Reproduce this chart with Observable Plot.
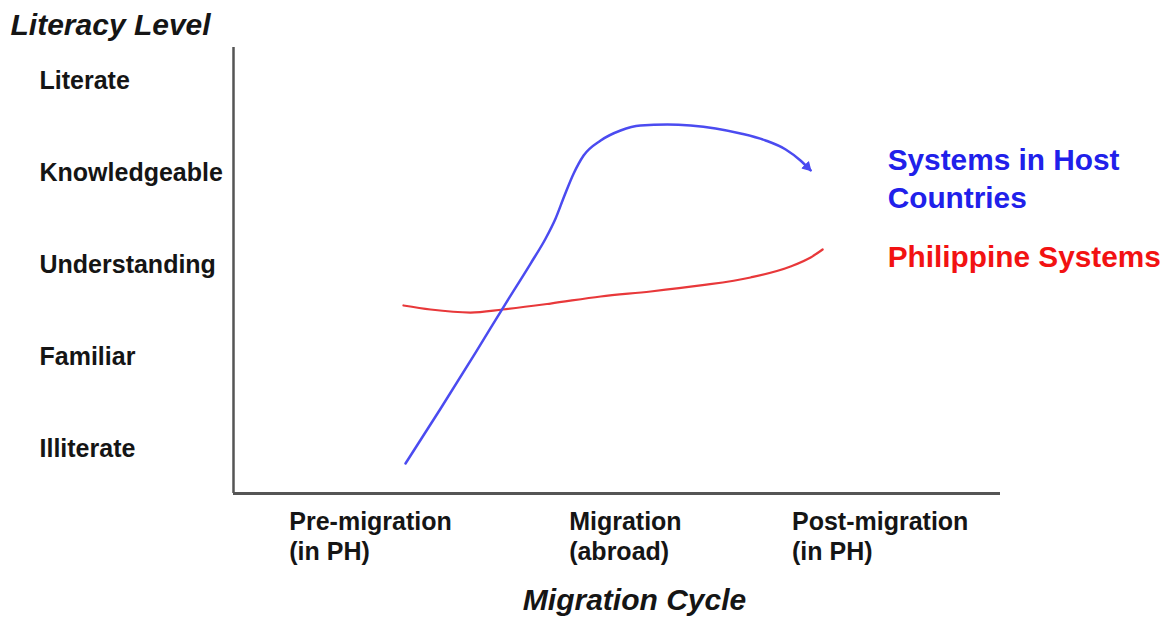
<!DOCTYPE html>
<html><head><meta charset="utf-8">
<script src="https://cdn.jsdelivr.net/npm/d3@7"></script>
<script src="https://cdn.jsdelivr.net/npm/@observablehq/plot@0.6"></script>
<style>html,body{margin:0;padding:0;background:#fff}#chart svg{display:block}</style>
</head><body><div id="chart"></div>
<script>
// ---- data ----
const yLevels = ["Illiterate", "Familiar", "Understanding", "Knowledgeable", "Literate"];
const xPhases = ["Pre-migration\n(in PH)", "Migration\n(abroad)", "Post-migration\n(in PH)"];
const seriesNames = ["Systems in Host\nCountries", "Philippine Systems"];
const yTitle = "Literacy Level";
const xTitle = "Migration Cycle";

// Systems in Host Countries (x: phase position 0..2, y: literacy level 0..4)
const hostX = [0.145, 0.283, 0.420, 0.538, 0.636, 0.695, 0.734, 0.769, 0.805, 0.844, 0.911, 0.989, 1.067, 1.173, 1.264, 1.362, 1.460, 1.558, 1.637, 1.695, 1.735];
const hostY = [-0.163, 0.436, 1.046, 1.580, 2.016, 2.289, 2.507, 2.757, 2.997, 3.193, 3.357, 3.466, 3.520, 3.531, 3.520, 3.488, 3.433, 3.357, 3.259, 3.139, 3.030];
// Philippine Systems
const phX = [0.137, 0.243, 0.400, 0.526, 0.714, 0.911, 1.107, 1.303, 1.499, 1.656, 1.735, 1.782];
const phY = [1.559, 1.515, 1.482, 1.515, 1.580, 1.657, 1.711, 1.777, 1.864, 1.984, 2.082, 2.169];

// ---- styles ----
const FONT = "'Liberation Sans', Arial, Helvetica, sans-serif";
const BLUE_LINE = "#4b4bf0", RED_LINE = "#e8383a";
const BLUE_TEXT = "#2020ea", RED_TEXT = "#f21212";
const INK = "#151515";

const host = hostX.map((x, i) => ({x, y: hostY[i]}));
const ph = phX.map((x, i) => ({x, y: phY[i]}));

const ctx = document.createElement("canvas").getContext("2d");
ctx.font = `bold 25px ${FONT}`;
const phaseMarks = xPhases.map((label, i) => {
  const w = ctx.measureText(label.split("\n")[0]).width;
  return Plot.text([label], {
    x: [i], text: d => d, frameAnchor: "bottom", textAnchor: "start", lineAnchor: "top",
    dx: -w / 2 + 2, dy: 15, fontSize: 25, lineHeight: 1.2, fontWeight: "bold", fill: INK
  });
});

const chart = Plot.plot({
  width: 1168, height: 619,
  marginLeft: 233, marginRight: 168, marginTop: 47, marginBottom: 126,
  x: {domain: [-0.53, 2.48], axis: null},
  y: {domain: [-0.49, 4.37], axis: null},
  style: {fontFamily: FONT, background: "#fff", overflow: "visible"},
  marks: [
    Plot.ruleX([-0.53], {stroke: "#555", strokeWidth: 2.5}),
    Plot.ruleY([-0.49], {stroke: "#555", strokeWidth: 3}),
    Plot.line(ph, {x: "x", y: "y", curve: "monotone-x", stroke: RED_LINE, strokeWidth: 2.2}),
    Plot.line(host, {x: "x", y: "y", curve: "monotone-x", stroke: BLUE_LINE, strokeWidth: 2.5, markerEnd: "arrow"}),
    Plot.text(yLevels, {y: (d, i) => i, text: d => d, frameAnchor: "left", textAnchor: "start", lineAnchor: "middle",
      dx: -194, fontSize: 25, fontWeight: "bold", fill: INK}),
    ...phaseMarks,
    Plot.text([seriesNames[0]], {x: [hostX[hostX.length - 1]], y: [hostY[hostY.length - 1]], text: d => d,
      textAnchor: "start", lineAnchor: "middle", dx: 77, dy: 6.5, fontSize: 29.8, lineHeight: 1.25, fontWeight: "bold", fill: BLUE_TEXT}),
    Plot.text([seriesNames[1]], {x: [phX[phX.length - 1]], y: [phY[phY.length - 1]], text: d => d,
      textAnchor: "start", lineAnchor: "middle", dx: 65, dy: 8, fontSize: 29.8, fontWeight: "bold", fill: RED_TEXT}),
    Plot.text([yTitle], {frameAnchor: "top-left", text: d => d, textAnchor: "start", lineAnchor: "middle",
      dx: -223, dy: -22, fontSize: 30, fontWeight: "bold", fontStyle: "italic", fill: INK}),
    Plot.text([xTitle], {frameAnchor: "bottom", text: d => d, textAnchor: "middle", lineAnchor: "middle",
      dx: 17.5, dy: 107, fontSize: 30, fontWeight: "bold", fontStyle: "italic", fill: INK})
  ]
});

// filled arrowhead
chart.querySelectorAll("marker").forEach(m => {
  const p = m.querySelector("path");
  if (p) p.setAttribute("d", "M-4.5,-2.6L0,0L-4.5,2.6Z");
  m.setAttribute("fill", m.getAttribute("stroke"));
  m.setAttribute("stroke-width", "0.8");
});

document.getElementById("chart").append(chart);
</script>
</body></html>
